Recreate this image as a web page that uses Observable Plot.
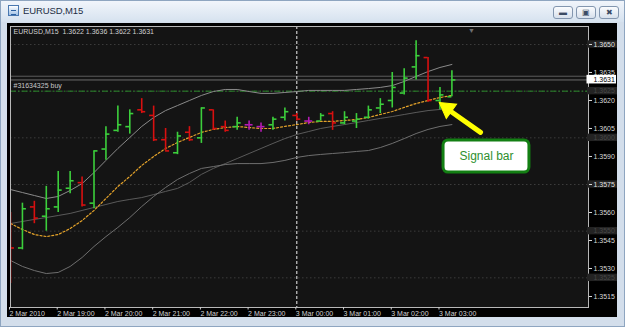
<!DOCTYPE html>
<html><head><meta charset="utf-8">
<script src="https://cdn.jsdelivr.net/npm/d3@7"></script>
<script src="https://cdn.jsdelivr.net/npm/@observablehq/plot@0.6"></script>
<style>
html,body{margin:0;padding:0;background:#fff;}
#win{position:relative;width:625px;height:327px;box-sizing:border-box;background:#d3deeb;border:1px solid #8ea5c0;overflow:hidden;font-family:"Liberation Sans",Arial,sans-serif;}
#title{position:absolute;left:0;top:0;width:623px;height:21px;background:linear-gradient(#f1f5fb,#d6e2ef);}
#icon{position:absolute;left:7px;top:4px;width:11px;height:11px;border:1px solid #4a78b0;background:linear-gradient(#ffffff,#9fc0e6);box-sizing:border-box;}
#icon:after{content:"";position:absolute;left:2px;top:4px;width:5px;height:3px;border-top:1px solid #2a5fa0;border-bottom:1px solid #2a5fa0;}
#ttext{position:absolute;left:22px;top:4px;font-size:9.5px;color:#1e2d44;letter-spacing:-0.1px;}
.btn{position:absolute;top:5px;width:20px;height:13px;box-sizing:border-box;border:1px solid #8396af;border-radius:3px;background:linear-gradient(#fbfcfe,#d7e0ec);font-size:8px;color:#3b4b63;text-align:center;line-height:11px;}
#chart{position:absolute;left:6px;top:22px;width:610px;height:294px;background:#000;}
</style></head>
<body>
<div id="win">
  <div id="title"><div id="icon"></div><div id="ttext"></div>
    <div class="btn" style="left:552px">&#9644;</div>
    <div class="btn" style="left:575px">&#9635;</div>
    <div class="btn" style="left:598px">&#10006;</div>
  </div>
  <div id="chart"></div>
</div>
<script>
// ---------- data ----------
const symbolName = "EURUSD";
const period = "M15";
const open  = [1.3553,1.3541,1.3563,1.3558,1.3563,1.3573,1.3576,1.3565,1.3594,1.3604,1.3606,1.3615,1.3612,1.3599,1.3592,1.3603,1.3600,1.3615,1.3606,1.3606,1.3607,1.3606,1.3607,1.3611,1.3612,1.3609,1.3609,1.3613,1.3608,1.3609,1.3611,1.3616,1.3620,1.3624,1.3638,1.3643,1.3620,1.3622];
const high  = [1.3560,1.3565,1.3566,1.3574,1.3582,1.3582,1.3579,1.3593,1.3606,1.3617,1.3615,1.3621,1.3617,1.3605,1.3603,1.3606,1.3616,1.3615,1.3609,1.3611,1.3609,1.3608,1.3611,1.3616,1.3613,1.3611,1.3613,1.3614,1.3614,1.3613,1.3617,1.3621,1.3635,1.3637,1.3652,1.3643,1.3627,1.3636];
const low   = [1.3522,1.3540,1.3554,1.3550,1.3560,1.3570,1.3563,1.3562,1.3588,1.3603,1.3602,1.3613,1.3598,1.3593,1.3591,1.3598,1.3597,1.3604,1.3603,1.3604,1.3604,1.3603,1.3604,1.3609,1.3609,1.3607,1.3609,1.3604,1.3607,1.3605,1.3610,1.3613,1.3616,1.3623,1.3631,1.3619,1.3615,1.3622];
const close = [1.3541,1.3562,1.3557,1.3562,1.3572,1.3577,1.3564,1.3593,1.3602,1.3607,1.3613,1.3614,1.3599,1.3593,1.3601,1.3599,1.3616,1.3605,1.3604,1.3608,1.3607,1.3606,1.3610,1.3614,1.3610,1.3609,1.3612,1.3608,1.3611,1.3610,1.3615,1.3618,1.3627,1.3632,1.3644,1.3620,1.3623,1.3631];
const bandUpper = [1.35723,1.35707,1.35691,1.35675,1.35686,1.35718,1.35755,1.35814,1.35879,1.35943,1.36002,1.36061,1.36109,1.36146,1.36173,1.36200,1.36227,1.36248,1.36259,1.36259,1.36248,1.36238,1.36238,1.36243,1.36248,1.36254,1.36254,1.36254,1.36254,1.36259,1.36264,1.36270,1.36280,1.36302,1.36329,1.36355,1.36377,1.36393];
const bandLower = [1.35343,1.35311,1.35289,1.35273,1.35279,1.35311,1.35359,1.35418,1.35471,1.35520,1.35573,1.35632,1.35686,1.35734,1.35777,1.35809,1.35836,1.35846,1.35857,1.35862,1.35862,1.35862,1.35868,1.35879,1.35895,1.35905,1.35911,1.35916,1.35921,1.35927,1.35932,1.35948,1.35970,1.35996,1.36023,1.36045,1.36061,1.36071];
const maFast = [1.35541,1.35509,1.35482,1.35471,1.35482,1.35514,1.35557,1.35611,1.35675,1.35739,1.35793,1.35852,1.35900,1.35943,1.35975,1.36002,1.36029,1.36045,1.36055,1.36061,1.36055,1.36050,1.36050,1.36061,1.36071,1.36082,1.36088,1.36088,1.36093,1.36098,1.36109,1.36125,1.36141,1.36163,1.36184,1.36200,1.36216,1.36227];
const maSlow = [1.35541,1.35552,1.35563,1.35573,1.35584,1.35595,1.35611,1.35627,1.35643,1.35659,1.35670,1.35680,1.35696,1.35713,1.35729,1.35761,1.35804,1.35836,1.35862,1.35889,1.35916,1.35943,1.35970,1.35996,1.36018,1.36034,1.36050,1.36061,1.36071,1.36082,1.36093,1.36104,1.36114,1.36125,1.36136,1.36146,1.36152,1.36157];
const xTickLabels = ["2 Mar 2010","2 Mar 19:00","2 Mar 20:00","2 Mar 21:00","2 Mar 22:00","2 Mar 23:00","3 Mar 00:00","3 Mar 01:00","3 Mar 02:00","3 Mar 03:00"];
const yTicks = [1.3650,1.3635,1.3620,1.3605,1.3590,1.3575,1.3560,1.3545,1.3530,1.3515];
const gridLevels = [1.3650,1.3625,1.3600,1.3575,1.3550,1.3525];
const orderLabel = "#31634325 buy";
const orderPrice = 1.3625;
const bidPrice = 1.3631, askPrice = 1.3633;
const signalText = "Signal bar";
// annotation geometry in bar-index / price units
const arrowTail = {i: 39.4, p: 1.36029};
const arrowNeck = {i: 36.8, p: 1.36146};
const arrowHead = {i: 36.62, p: 1.36158};
const signalBox = {i1: 36.3, i2: 43.5, p1: 1.35986, p2: 1.35814};
const shiftMarkerIdx = 38.65;

// ---------- build ----------
const start = Date.UTC(2010, 2, 2, 18, 0);
const M15 = 15 * 60 * 1000;
const T = i => new Date(start + i * M15);
const bars = open.map((o, i) => ({
  t: T(i), o, h: high[i], l: low[i], c: close[i],
  col: close[i] > o ? "#3ccf3c" : close[i] < o ? "#d81010" : "#b41ab4"
}));
const ind = bandUpper.map((u, i) => ({t: T(i), u, lo: bandLower[i], f: maFast[i], s: maSlow[i]}));
const hourTicks = xTickLabels.map((_, k) => new Date(start + k * 3600000));
const xEnd = T(48.45);
const tickLen = 5 * 60000;
const last = bars[bars.length - 1];
document.getElementById("ttext").textContent = symbolName + "," + period;
const header = symbolName + "," + period + "\u00a0\u00a0" + [last.o, last.h, last.l, last.c].map(v => v.toFixed(4)).join(" ");

const chart = Plot.plot({
  width: 610, height: 294,
  marginLeft: 3, marginRight: 29, marginTop: 3, marginBottom: 10,
  style: {background: "transparent", fontFamily: "'Liberation Sans', Arial, sans-serif", fontSize: "7px", color: "#d0d0d0"},
  x: {type: "utc", domain: [T(0), xEnd], axis: null, label: null},
  y: {domain: [1.350911, 1.365964], axis: null, label: null},
  marks: [
    Plot.frame({fill: "#141414", stroke: null}),
    Plot.ruleY(gridLevels, {stroke: "#3c3c3c", strokeDasharray: "1.5,2.5"}),
    Plot.ruleY([askPrice], {stroke: "#5c5c5c"}),
    Plot.ruleY([bidPrice], {stroke: "#6c6c6c"}),
    Plot.ruleY([orderPrice], {stroke: "#2a8a2a", strokeDasharray: "6,2,1.5,2"}),
    Plot.text([orderLabel], {x: T(0), y: orderPrice, text: d => d, dx: 3, dy: -5, textAnchor: "start", fill: "#c8c8c8"}),
    Plot.text([header], {frameAnchor: "top-left", text: d => d, dx: 3, dy: 3, textAnchor: "start", lineAnchor: "top", fill: "#d0d0d0"}),
    Plot.ruleX([T(24)], {stroke: "#f0f0f0", strokeDasharray: "3,2"}),
    Plot.line(ind, {x: "t", y: "s", stroke: "#5a5a5a", strokeWidth: 1, clip: true}),
    Plot.line(ind, {x: "t", y: "u", stroke: "#8a8a8a", strokeWidth: 1, clip: true}),
    Plot.line(ind, {x: "t", y: "lo", stroke: "#6e6e6e", strokeWidth: 1, clip: true}),
    Plot.line(ind, {x: "t", y: "f", stroke: "#e3a22a", strokeWidth: 1.2, strokeDasharray: "2,2", clip: true}),
    Plot.ruleX(bars, {x: "t", y1: "l", y2: "h", stroke: "col", strokeWidth: 1.6, clip: true}),
    Plot.ruleY(bars, {y: "o", x1: d => new Date(+d.t - tickLen), x2: "t", stroke: "col", strokeWidth: 1.6, clip: true}),
    Plot.ruleY(bars, {y: "c", x1: "t", x2: d => new Date(+d.t + tickLen), stroke: "col", strokeWidth: 1.6, clip: true}),
    // annotation
    Plot.link([0], {x1: T(arrowTail.i), y1: arrowTail.p, x2: T(arrowNeck.i), y2: arrowNeck.p, stroke: "#ffff00", strokeWidth: 5, strokeLinecap: "round"}),
    Plot.dot([0], {x: T(arrowHead.i), y: arrowHead.p, symbol: "triangle", r: 6.5, fill: "#ffff00", stroke: "#ffff00", strokeWidth: 1, rotate: -54}),
    Plot.rect([0], {x1: T(signalBox.i1), x2: T(signalBox.i2), y1: signalBox.p1, y2: signalBox.p2, rx: 5, fill: "#ffffff", stroke: "#137f13", strokeWidth: 3}),
    Plot.text([signalText], {x: T((signalBox.i1 + signalBox.i2) / 2), y: (signalBox.p1 + signalBox.p2) / 2, text: d => d, fontSize: 12, fill: "#2e8f2e"}),
    Plot.text(["\u25BC"], {x: T(shiftMarkerIdx), frameAnchor: "top", text: d => d, dy: 2, fontSize: 7, fill: "#707070"}),
    // frame & axes
    Plot.frame({stroke: "#b8b8b8"}),
    Plot.axisX(hourTicks, {tickSize: 2.5, tickPadding: 1.5, textAnchor: "start", dx: -1, color: "#d0d0d0", label: null, tickFormat: d => xTickLabels[Math.round((d - start) / 3600000)]}),
    Plot.rect(gridLevels, {x1: xEnd, x2: xEnd, y1: d => d, y2: d => d, insetLeft: -1, insetRight: -29, insetTop: -3.7, insetBottom: -3.7, fill: "#232323"}),
    Plot.text(gridLevels, {x: xEnd, y: d => d, text: d => d.toFixed(4), dx: 5, textAnchor: "start", fill: "#474747"}),
    Plot.axisY(yTicks, {anchor: "right", tickSize: 3, tickPadding: 2, color: "#d8d8d8", label: null, tickFormat: d => d.toFixed(4)}),
    Plot.rect([bidPrice], {x1: xEnd, x2: xEnd, y1: d => d, y2: d => d, insetLeft: -1.5, insetRight: -28, insetTop: -4.6, insetBottom: -4, fill: "#ffffff"}),
    Plot.text([bidPrice], {x: xEnd, y: d => d, text: d => d.toFixed(4), dx: 5, textAnchor: "start", fill: "#000000"})
  ]
});
document.getElementById("chart").appendChild(chart);
</script>
</body></html>
